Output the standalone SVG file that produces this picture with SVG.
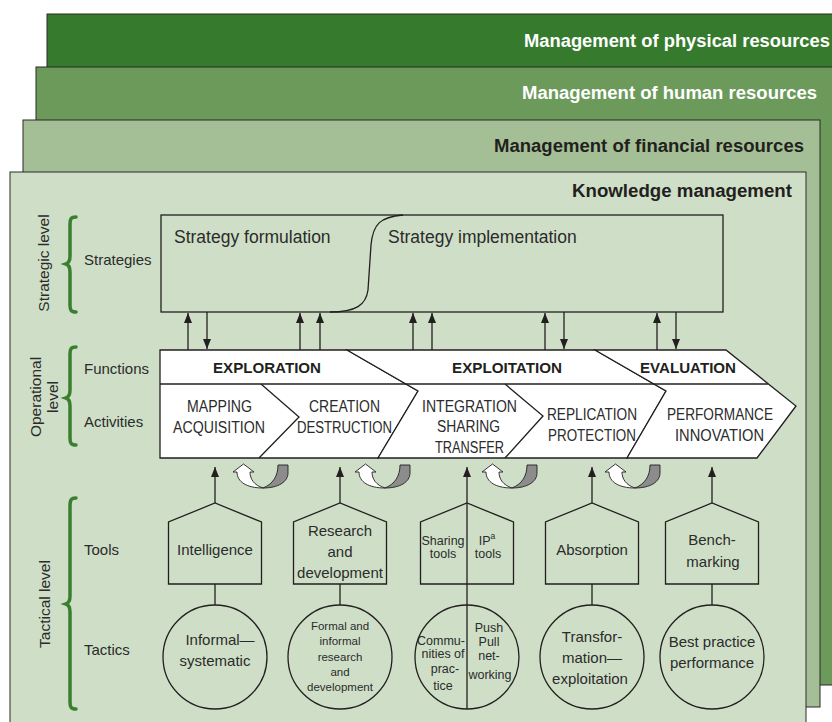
<svg xmlns="http://www.w3.org/2000/svg" xmlns:xlink="http://www.w3.org/1999/xlink" width="832" height="722" viewBox="0 0 832 722">
<style>
text{font-family:"Liberation Sans",Arial,sans-serif;fill:#2b2b2b}
.title{font-weight:bold;font-size:18px;text-anchor:end}
.wt{fill:#ffffff}
.dk{fill:#231f20}
.lbl{font-size:15px}
.rot{font-size:15.5px;text-anchor:middle}
.strat{font-size:17.5px}
.fn{font-weight:bold;font-size:15.5px;text-anchor:middle;fill:#231f20}
.act{font-size:16px;text-anchor:middle}
.tool{font-size:15px;text-anchor:middle}
.small{font-size:12.5px;text-anchor:middle}
.tiny{font-size:11.5px;text-anchor:middle}
.ln{stroke:#231f20;stroke-width:1.3;fill:none}
.shape{fill:#ffffff;stroke:#231f20;stroke-width:1.3}
.node{fill:none;stroke:#231f20;stroke-width:1.3}
.brace{fill:none;stroke:#3a7f2f;stroke-width:3.5;stroke-linecap:round}
.arr{stroke:#231f20;stroke-width:1.3;fill:none;marker-end:url(#ah)}
</style>
<defs>
<marker id="ah" markerUnits="userSpaceOnUse" viewBox="0 0 10 8" markerWidth="10" markerHeight="8" refX="10" refY="4" orient="auto">
<path d="M0,0 L10,4 L0,8 Z" fill="#231f20"/>
</marker>
<g id="cycle">
<path d="M0,8 L10.5,0 L21,8 L17,8 C17,15 21,21 30,24 C14,24 4,18 4,8 Z" fill="#ffffff" stroke="#231f20" stroke-width="0.9"/>
<path d="M45,1 L55,1 L55,9 C55,18 45,24 30,24 C40,20 45,12 45,1 Z" fill="#8c8c8c" stroke="#231f20" stroke-width="0.9"/>
</g>
</defs>

<g id="layer-physical">
<rect x="47" y="14" width="800" height="600" fill="#367b2d" stroke="#2a2a2a" stroke-width="1"/>
<text class="title wt" x="830" y="47" textLength="306" lengthAdjust="spacingAndGlyphs">Management of physical resources</text>
</g>
<g id="layer-human">
<rect x="36" y="67" width="810" height="618" fill="#6b9a5b" stroke="#2a2a2a" stroke-width="1"/>
<text class="title wt" x="817" y="99" textLength="295" lengthAdjust="spacingAndGlyphs">Management of human resources</text>
</g>
<g id="layer-financial">
<rect x="23" y="120" width="797" height="587" fill="#a4bf95" stroke="#2a2a2a" stroke-width="1"/>
<text class="title dk" x="804" y="152" textLength="310" lengthAdjust="spacingAndGlyphs">Management of financial resources</text>
</g>
<g id="layer-knowledge">
<rect x="10" y="172" width="796" height="570" fill="#cfdfc7" stroke="#2a2a2a" stroke-width="1"/>
<text class="title dk" x="792" y="197" textLength="220" lengthAdjust="spacingAndGlyphs">Knowledge management</text>
</g>

<g id="levels">
<path class="brace" d="M76,217 C71,217 70,219 70,224 L70,256 C70,261 69,263 66,264 C69,265 70,267 70,272 L70,305 C70,310 71,312 76,312"/>
<path class="brace" d="M76,347 C71,347 70,349 70,354 L70,390 C70,395 69,397 66,398 C69,399 70,401 70,406 L70,438 C70,443 71,445 76,445"/>
<path class="brace" d="M76,498 C71,498 70,500 70,506 L70,596 C70,601 69,603 66,604 C69,605 70,607 70,612 L70,702 C70,707 71,709 76,709"/>
<text class="rot" transform="translate(49,263) rotate(-90)">Strategic level</text>
<text class="rot" transform="translate(41,397) rotate(-90)">Operational</text>
<text class="rot" transform="translate(58,397) rotate(-90)">level</text>
<text class="rot" transform="translate(50,604) rotate(-90)">Tactical level</text>
<text class="lbl" x="84" y="265">Strategies</text>
<text class="lbl" x="84" y="374">Functions</text>
<text class="lbl" x="84" y="427">Activities</text>
<text class="lbl" x="84" y="555">Tools</text>
<text class="lbl" x="84" y="655">Tactics</text>
</g>

<g id="strategies">
<rect x="161" y="215" width="562" height="97" class="node"/>
<path class="ln" d="M403,215 C380,217 373,224 371,245 L368,290 C366,305 356,312 330,312"/>
<text class="strat" x="174" y="243">Strategy formulation</text>
<text class="strat" x="388" y="243">Strategy implementation</text>
</g>

<g id="functions">
<polygon class="shape" points="160,350 347,350 418,391 378,458 160,458"/>
<polygon class="shape" points="347,350 595,350 666,391 627,458 378,458 418,391"/>
<polygon class="shape" points="595,350 726,350 796,406 757,458 627,458 666,391"/>
<line class="ln" x1="160" y1="384" x2="768" y2="384"/>
<polyline class="ln" points="261,384 299,417 259,458"/>
<polyline class="ln" points="505,384 543,416 505,458"/>
<text class="fn" x="267" y="373" textLength="108" lengthAdjust="spacingAndGlyphs">EXPLORATION</text>
<text class="fn" x="507" y="373" textLength="110" lengthAdjust="spacingAndGlyphs">EXPLOITATION</text>
<text class="fn" x="688" y="373" textLength="96" lengthAdjust="spacingAndGlyphs">EVALUATION</text>
</g>

<g id="activities">
<text class="act" x="219.5" y="412" textLength="65" lengthAdjust="spacingAndGlyphs">MAPPING</text>
<text class="act" x="219" y="433" textLength="92" lengthAdjust="spacingAndGlyphs">ACQUISITION</text>
<text class="act" x="344.5" y="412" textLength="71" lengthAdjust="spacingAndGlyphs">CREATION</text>
<text class="act" x="344.5" y="433" textLength="95" lengthAdjust="spacingAndGlyphs">DESTRUCTION</text>
<text class="act" x="469.5" y="412" textLength="95" lengthAdjust="spacingAndGlyphs">INTEGRATION</text>
<text class="act" x="468.5" y="432" textLength="63" lengthAdjust="spacingAndGlyphs">SHARING</text>
<text class="act" x="469.5" y="453" textLength="69" lengthAdjust="spacingAndGlyphs">TRANSFER</text>
<text class="act" x="592" y="420" textLength="90" lengthAdjust="spacingAndGlyphs">REPLICATION</text>
<text class="act" x="592" y="441" textLength="88" lengthAdjust="spacingAndGlyphs">PROTECTION</text>
<text class="act" x="720" y="420" textLength="106" lengthAdjust="spacingAndGlyphs">PERFORMANCE</text>
<text class="act" x="719.5" y="441" textLength="89" lengthAdjust="spacingAndGlyphs">INNOVATION</text>
</g>

<g id="connectors">
<line class="arr" x1="188" y1="350" x2="188" y2="313"/>
<line class="arr" x1="207" y1="312" x2="207" y2="349"/>
<line class="arr" x1="300" y1="350" x2="300" y2="313"/>
<line class="arr" x1="320" y1="350" x2="320" y2="313"/>
<line class="arr" x1="413" y1="350" x2="413" y2="313"/>
<line class="arr" x1="432" y1="350" x2="432" y2="313"/>
<line class="arr" x1="545" y1="350" x2="545" y2="313"/>
<line class="arr" x1="564" y1="312" x2="564" y2="349"/>
<line class="arr" x1="657" y1="350" x2="657" y2="313"/>
<line class="arr" x1="676" y1="312" x2="676" y2="349"/>
<line class="arr" x1="215" y1="503" x2="215" y2="467"/>
<line class="arr" x1="340" y1="503" x2="340" y2="467"/>
<line class="arr" x1="467" y1="709" x2="467" y2="467"/>
<line class="arr" x1="592" y1="503" x2="592" y2="467"/>
<line class="arr" x1="712" y1="503" x2="712" y2="467"/>
<line class="ln" x1="215" y1="584" x2="215" y2="605"/>
<line class="ln" x1="340" y1="584" x2="340" y2="605"/>
<line class="ln" x1="592" y1="584" x2="592" y2="605"/>
<line class="ln" x1="712" y1="584" x2="712" y2="605"/>
<use xlink:href="#cycle" transform="translate(233,464)"/>
<use xlink:href="#cycle" transform="translate(355,464)"/>
<use xlink:href="#cycle" transform="translate(482,464)"/>
<use xlink:href="#cycle" transform="translate(605,464)"/>
</g>

<g id="tool-intelligence">
<polygon class="node" points="168.5,584 168.5,522 215,503 261.5,522 261.5,584"/>
<text class="tool" x="215" y="555">Intelligence</text>
</g>
<g id="tool-research">
<polygon class="node" points="293.5,584 293.5,522 340,503 386.5,522 386.5,584"/>
<text class="tool" x="340" y="536">Research</text>
<text class="tool" x="340" y="557">and</text>
<text class="tool" x="340" y="578">development</text>
</g>
<g id="tool-sharing">
<polygon class="node" points="420.5,584 420.5,522 467,503 513.5,522 513.5,584"/>
<text class="small" x="443" y="545">Sharing</text>
<text class="small" x="443" y="558">tools</text>
<text class="small" x="487" y="545">IP<tspan font-size="8.5" dy="-6">a</tspan></text>
<text class="small" x="488" y="558">tools</text>
</g>
<g id="tool-absorption">
<polygon class="node" points="545.5,584 545.5,522 592,503 638.5,522 638.5,584"/>
<text class="tool" x="592" y="555">Absorption</text>
</g>
<g id="tool-benchmarking">
<polygon class="node" points="665.5,584 665.5,522 712,503 758.5,522 758.5,584"/>
<text class="tool" x="712" y="545">Bench-</text>
<text class="tool" x="713" y="567">marking</text>
</g>

<g id="tactic-informal">
<circle class="node" cx="215" cy="657" r="52"/>
<text class="tool" x="220" y="645" font-size="15.5">Informal—</text>
<text class="tool" x="215" y="666" font-size="15.5">systematic</text>
</g>
<g id="tactic-formal">
<circle class="node" cx="340" cy="657" r="52"/>
<text class="tiny" x="340" y="630">Formal and</text>
<text class="tiny" x="340" y="645">informal</text>
<text class="tiny" x="340" y="661">research</text>
<text class="tiny" x="340" y="676">and</text>
<text class="tiny" x="340" y="691">development</text>
</g>
<g id="tactic-communities">
<circle class="node" cx="467" cy="657" r="52"/>
<text class="small" x="441" y="645">Commu-</text>
<text class="small" x="443" y="658">nities of</text>
<text class="small" x="445" y="673">prac-</text>
<text class="small" x="443" y="690">tice</text>
<text class="small" x="489" y="632">Push</text>
<text class="small" x="489" y="646">Pull</text>
<text class="small" x="489" y="660">net-</text>
<text class="small" x="490" y="679">working</text>
</g>
<g id="tactic-transformation">
<circle class="node" cx="592" cy="657" r="52"/>
<text class="tool" x="592" y="642" font-size="16">Transfor-</text>
<text class="tool" x="592" y="663" font-size="16">mation—</text>
<text class="tool" x="590" y="684" font-size="16">exploitation</text>
</g>
<g id="tactic-bestpractice">
<circle class="node" cx="712" cy="657" r="52"/>
<text class="tool" x="712" y="647">Best practice</text>
<text class="tool" x="712" y="668">performance</text>
</g>
</svg>
